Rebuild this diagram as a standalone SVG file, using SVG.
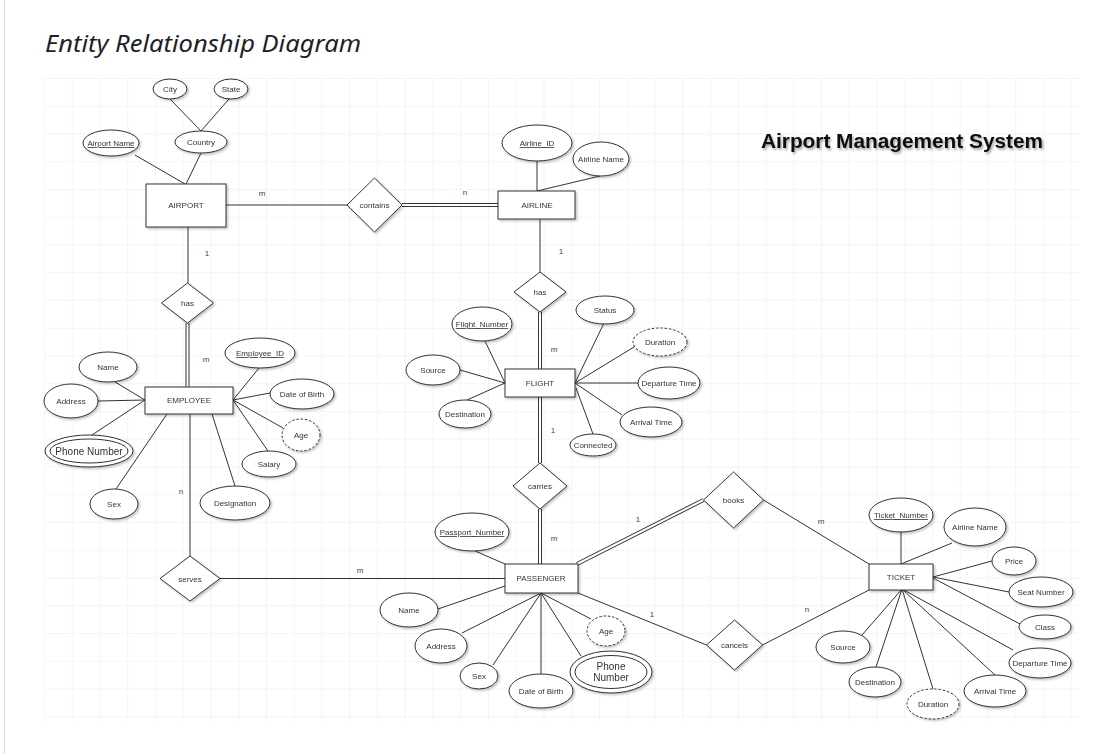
<svg xmlns="http://www.w3.org/2000/svg" width="1114" height="754" viewBox="0 0 1114 754">
<defs>
<pattern id="grid" x="44" y="78" width="27.75" height="27.75" patternUnits="userSpaceOnUse">
<path d="M27.75 0H0V27.75" fill="none" stroke="#ececec" stroke-width="1"/>
</pattern>
<filter id="sh" x="-20%" y="-20%" width="150%" height="150%">
<feDropShadow dx="1.5" dy="1.5" stdDeviation="0.8" flood-color="#000" flood-opacity="0.25"/>
</filter>
<filter id="tsh" x="-5%" y="-30%" width="110%" height="170%">
<feDropShadow dx="1.5" dy="2" stdDeviation="1.2" flood-color="#000" flood-opacity="0.35"/>
</filter>
</defs>
<style>
.ent{fill:#fff;stroke:#333;stroke-width:1}
.att{fill:#fff;stroke:#333;stroke-width:1}
.dsh{stroke-dasharray:2.5 1.8}
.rel{fill:#fff;stroke:#333;stroke-width:1}
.t{font-family:"Liberation Sans",Arial,sans-serif;font-size:8px;fill:#333;text-anchor:middle}
.tb{font-family:"Liberation Sans",Arial,sans-serif;font-size:10px;fill:#333;text-anchor:middle}
.u{text-decoration:underline}
.ln{stroke:#333;stroke-width:1;fill:none}
.dbo{stroke:#333;stroke-width:4;fill:none}
.dbi{stroke:#fff;stroke-width:2;fill:none}
.lbl{font-family:"Liberation Sans",Arial,sans-serif;font-size:8px;fill:#444;text-anchor:middle}
</style>
<rect x="0" y="0" width="1114" height="754" fill="#fff"/>
<line x1="4.5" y1="0" x2="4.5" y2="754" stroke="#dcdcdc" stroke-width="1"/>
<rect x="44" y="78" width="1036" height="644" fill="url(#grid)"/>
<text x="45" y="52" font-family="'Noto Sans','Open Sans',sans-serif" font-style="italic" font-size="24" fill="#1e1e28" textLength="316" lengthAdjust="spacingAndGlyphs">Entity Relationship Diagram</text>
<text x="902" y="148" font-family="'Liberation Sans',Arial,sans-serif" font-weight="bold" font-size="20" fill="#111" text-anchor="middle" filter="url(#tsh)" textLength="282" lengthAdjust="spacingAndGlyphs">Airport Management System</text>

<g id="connectors">
<line class="ln" x1="226" y1="205" x2="347" y2="205"/>
<line class="dbo" x1="402" y1="205" x2="498" y2="205"/><line class="dbi" x1="402" y1="205" x2="498" y2="205"/>
<line class="ln" x1="540" y1="219" x2="540" y2="272"/>
<line class="dbo" x1="540" y1="312" x2="540" y2="369"/><line class="dbi" x1="540" y1="312" x2="540" y2="369"/>
<line class="dbo" x1="540" y1="397" x2="540" y2="463"/><line class="dbi" x1="540" y1="397" x2="540" y2="463"/>
<line class="dbo" x1="540" y1="509" x2="540" y2="564"/><line class="dbi" x1="540" y1="509" x2="540" y2="564"/>
<line class="ln" x1="188" y1="227" x2="188" y2="283"/>
<line class="dbo" x1="187.5" y1="323" x2="187.5" y2="387"/><line class="dbi" x1="187.5" y1="323" x2="187.5" y2="387"/>
<line class="ln" x1="190" y1="414" x2="190" y2="556"/>
<line class="ln" x1="220" y1="578.5" x2="505" y2="578.5"/>
<line class="dbo" x1="577" y1="564" x2="703.5" y2="500"/><line class="dbi" x1="577" y1="564" x2="703.5" y2="500"/>
<line class="ln" x1="763.5" y1="500" x2="869" y2="564"/>
<line class="ln" x1="578" y1="593" x2="706.5" y2="645"/>
<line class="ln" x1="762.5" y1="645" x2="869" y2="590"/>
<!-- airport attributes -->
<line class="ln" x1="170" y1="99" x2="201" y2="131"/>
<line class="ln" x1="229" y1="99" x2="201" y2="131"/>
<line class="ln" x1="135" y1="155" x2="185" y2="184"/>
<line class="ln" x1="201" y1="153" x2="186" y2="184"/>
<!-- airline attributes -->
<line class="ln" x1="537" y1="161" x2="537" y2="191"/>
<line class="ln" x1="600" y1="176" x2="537" y2="191"/>
<!-- flight attributes -->
<line class="ln" x1="485" y1="341" x2="505" y2="383"/>
<line class="ln" x1="460" y1="370" x2="505" y2="383"/>
<line class="ln" x1="467" y1="400" x2="505" y2="383"/>
<line class="ln" x1="604" y1="323" x2="575" y2="383"/>
<line class="ln" x1="634" y1="347" x2="575" y2="383"/>
<line class="ln" x1="638" y1="383" x2="575" y2="383"/>
<line class="ln" x1="622" y1="415" x2="575" y2="383"/>
<line class="ln" x1="593" y1="434" x2="576" y2="388"/>
<!-- employee attributes -->
<line class="ln" x1="115" y1="382" x2="145" y2="400"/>
<line class="ln" x1="98" y1="401" x2="145" y2="400"/>
<line class="ln" x1="92" y1="435" x2="145" y2="400"/>
<line class="ln" x1="116" y1="489" x2="167" y2="414"/>
<line class="ln" x1="235" y1="486" x2="212" y2="414"/>
<line class="ln" x1="259" y1="368" x2="233" y2="400"/>
<line class="ln" x1="270" y1="393" x2="233" y2="400"/>
<line class="ln" x1="283" y1="428" x2="233" y2="400"/>
<line class="ln" x1="268" y1="451" x2="233" y2="400"/>
<!-- passenger attributes -->
<line class="ln" x1="475" y1="551" x2="505" y2="564"/>
<line class="ln" x1="438" y1="609" x2="505" y2="586"/>
<line class="ln" x1="462" y1="633" x2="541" y2="593"/>
<line class="ln" x1="493" y1="665" x2="541" y2="593"/>
<line class="ln" x1="541" y1="674" x2="541" y2="593"/>
<line class="ln" x1="581" y1="656" x2="541" y2="593"/>
<line class="ln" x1="591" y1="619" x2="541" y2="593"/>
<!-- ticket attributes -->
<line class="ln" x1="901" y1="531" x2="901" y2="564"/>
<line class="ln" x1="952" y1="543" x2="901" y2="564"/>
<line class="ln" x1="992" y1="561" x2="933" y2="577"/>
<line class="ln" x1="1009" y1="592" x2="933" y2="577"/>
<line class="ln" x1="1020" y1="624" x2="933" y2="578"/>
<line class="ln" x1="1013" y1="650" x2="902" y2="589"/>
<line class="ln" x1="995" y1="675" x2="902" y2="589"/>
<line class="ln" x1="933" y1="689" x2="902" y2="589"/>
<line class="ln" x1="876" y1="667" x2="902" y2="589"/>
<line class="ln" x1="862" y1="635" x2="902" y2="589"/>
<!-- cardinalities -->
<text class="lbl" x="262" y="196">m</text>
<text class="lbl" x="465" y="195">n</text>
<text class="lbl" x="561" y="254">1</text>
<text class="lbl" x="207" y="256">1</text>
<text class="lbl" x="206" y="362">m</text>
<text class="lbl" x="554" y="352">m</text>
<text class="lbl" x="553" y="433">1</text>
<text class="lbl" x="554" y="541">m</text>
<text class="lbl" x="181" y="494">n</text>
<text class="lbl" x="360" y="573">m</text>
<text class="lbl" x="638" y="522">1</text>
<text class="lbl" x="821" y="524">m</text>
<text class="lbl" x="652" y="617">1</text>
<text class="lbl" x="807" y="612">n</text>
</g>

<g filter="url(#sh)">
<g id="airport"><rect class="ent" x="146" y="184" width="80" height="43"/><text class="t" x="186" y="208">AIRPORT</text></g>
<g id="airport-city"><ellipse class="att" cx="170" cy="89" rx="17" ry="10"/><text class="t" x="170" y="92">City</text></g>
<g id="airport-state"><ellipse class="att" cx="231" cy="89" rx="17" ry="10"/><text class="t" x="231" y="92">State</text></g>
<g id="airport-country"><ellipse class="att" cx="201" cy="142" rx="26" ry="11"/><text class="t" x="201" y="145">Country</text></g>
<g id="airport-name"><ellipse class="att" cx="111" cy="143" rx="28" ry="13"/><text class="t u" x="111" y="146">Airport Name</text></g>

<g id="contains"><polygon class="rel" points="347,205 374.5,178 402,205 374.5,232"/><text class="t" x="374.5" y="208">contains</text></g>

<g id="airline"><rect class="ent" x="498" y="191" width="77" height="28"/><text class="t" x="537" y="208">AIRLINE</text></g>
<g id="airline-id"><ellipse class="att" cx="537" cy="143" rx="35" ry="18"/><text class="t u" x="537" y="146">Airline_ID</text></g>
<g id="airline-name"><ellipse class="att" cx="601" cy="159" rx="28" ry="17"/><text class="t" x="601" y="162">Airline Name</text></g>

<g id="has-flight"><polygon class="rel" points="514,292 540,272 566,292 540,312"/><text class="t" x="540" y="295">has</text></g>

<g id="flight"><rect class="ent" x="505" y="369" width="70" height="28"/><text class="t" x="540" y="386">FLIGHT</text></g>
<g id="flight-number"><ellipse class="att" cx="482" cy="324" rx="30" ry="17"/><text class="t u" x="482" y="327">Flight_Number</text></g>
<g id="flight-source"><ellipse class="att" cx="433" cy="370" rx="27" ry="15"/><text class="t" x="433" y="373">Source</text></g>
<g id="flight-destination"><ellipse class="att" cx="465" cy="414" rx="26" ry="14"/><text class="t" x="465" y="417">Destination</text></g>
<g id="flight-status"><ellipse class="att" cx="605" cy="310" rx="29" ry="14"/><text class="t" x="605" y="313">Status</text></g>
<g id="flight-duration"><ellipse class="att dsh" cx="660" cy="342" rx="27" ry="14"/><text class="t" x="660" y="345">Duration</text></g>
<g id="flight-departure"><ellipse class="att" cx="669" cy="383" rx="31" ry="16"/><text class="t" x="669" y="386">Departure Time</text></g>
<g id="flight-arrival"><ellipse class="att" cx="651" cy="422" rx="31" ry="15"/><text class="t" x="651" y="425">Arrival Time</text></g>
<g id="flight-connected"><ellipse class="att" cx="593" cy="445" rx="23" ry="11"/><text class="t" x="593" y="448">Connected</text></g>

<g id="carries"><polygon class="rel" points="513,486 540,463 567,486 540,509"/><text class="t" x="540" y="489">carries</text></g>

<g id="has-employee"><polygon class="rel" points="161.5,303 187.5,283 213.5,303 187.5,323"/><text class="t" x="187.5" y="306">has</text></g>

<g id="employee"><rect class="ent" x="145" y="387" width="88" height="27"/><text class="t" x="189" y="403">EMPLOYEE</text></g>
<g id="employee-id"><ellipse class="att" cx="260" cy="353" rx="35" ry="15"/><text class="t u" x="260" y="356">Employee_ID</text></g>
<g id="employee-name"><ellipse class="att" cx="108" cy="367" rx="29" ry="15"/><text class="t" x="108" y="370">Name</text></g>
<g id="employee-address"><ellipse class="att" cx="71" cy="401" rx="27" ry="17"/><text class="t" x="71" y="404">Address</text></g>
<g id="employee-phone"><ellipse class="att" cx="89" cy="451" rx="44" ry="16"/><ellipse class="att" cx="89" cy="451" rx="39" ry="12"/><text class="tb" x="89" y="454.5">Phone Number</text></g>
<g id="employee-sex"><ellipse class="att" cx="114" cy="504" rx="24" ry="15"/><text class="t" x="114" y="507">Sex</text></g>
<g id="employee-designation"><ellipse class="att" cx="235" cy="503" rx="35" ry="17"/><text class="t" x="235" y="506">Designation</text></g>
<g id="employee-salary"><ellipse class="att" cx="269" cy="464" rx="27" ry="13"/><text class="t" x="269" y="467">Salary</text></g>
<g id="employee-age"><ellipse class="att dsh" cx="301" cy="435" rx="19" ry="16"/><text class="t" x="301" y="438">Age</text></g>
<g id="employee-dob"><ellipse class="att" cx="302" cy="394" rx="32" ry="15"/><text class="t" x="302" y="397">Date of Birth</text></g>

<g id="serves"><polygon class="rel" points="160,578.5 190,556 220,578.5 190,601"/><text class="t" x="190" y="581.5">serves</text></g>

<g id="passenger"><rect class="ent" x="505" y="564" width="73" height="29"/><text class="t" x="541" y="581">PASSENGER</text></g>
<g id="passenger-passport"><ellipse class="att" cx="472" cy="532" rx="37" ry="19"/><text class="t u" x="472" y="535">Passport_Number</text></g>
<g id="passenger-name"><ellipse class="att" cx="409" cy="610" rx="29" ry="17"/><text class="t" x="409" y="613">Name</text></g>
<g id="passenger-address"><ellipse class="att" cx="441" cy="646" rx="26" ry="17"/><text class="t" x="441" y="649">Address</text></g>
<g id="passenger-sex"><ellipse class="att" cx="479" cy="676" rx="19" ry="13"/><text class="t" x="479" y="679">Sex</text></g>
<g id="passenger-dob"><ellipse class="att" cx="541" cy="691" rx="32" ry="17"/><text class="t" x="541" y="694">Date of Birth</text></g>
<g id="passenger-phone"><ellipse class="att" cx="611" cy="672" rx="41" ry="21"/><ellipse class="att" cx="611" cy="672" rx="36" ry="16.5"/><text class="tb" x="611" y="670">Phone</text><text class="tb" x="611" y="681">Number</text></g>
<g id="passenger-age"><ellipse class="att dsh" cx="606" cy="631" rx="19" ry="15"/><text class="t" x="606" y="634">Age</text></g>

<g id="books"><polygon class="rel" points="703.5,500 733.5,472 763.5,500 733.5,528"/><text class="t" x="733.5" y="503">books</text></g>
<g id="cancels"><polygon class="rel" points="706.5,645 734.5,620 762.5,645 734.5,670"/><text class="t" x="734.5" y="648">cancels</text></g>

<g id="ticket"><rect class="ent" x="869" y="564" width="64" height="26"/><text class="t" x="901" y="580">TICKET</text></g>
<g id="ticket-number"><ellipse class="att" cx="901" cy="515" rx="32" ry="17"/><text class="t u" x="901" y="518">Ticket_Number</text></g>
<g id="ticket-airline"><ellipse class="att" cx="975" cy="527" rx="31" ry="19"/><text class="t" x="975" y="530">Airline Name</text></g>
<g id="ticket-price"><ellipse class="att" cx="1014" cy="561" rx="22" ry="14"/><text class="t" x="1014" y="564">Price</text></g>
<g id="ticket-seat"><ellipse class="att" cx="1041" cy="592" rx="32" ry="15"/><text class="t" x="1041" y="595">Seat Number</text></g>
<g id="ticket-class"><ellipse class="att" cx="1045" cy="627" rx="26" ry="12"/><text class="t" x="1045" y="630">Class</text></g>
<g id="ticket-departure"><ellipse class="att" cx="1040" cy="663" rx="31" ry="15"/><text class="t" x="1040" y="666">Departure Time</text></g>
<g id="ticket-arrival"><ellipse class="att" cx="995" cy="691" rx="31" ry="16"/><text class="t" x="995" y="694">Arrival Time</text></g>
<g id="ticket-duration"><ellipse class="att dsh" cx="933" cy="704" rx="26" ry="15"/><text class="t" x="933" y="707">Duration</text></g>
<g id="ticket-destination"><ellipse class="att" cx="875" cy="682" rx="26" ry="15"/><text class="t" x="875" y="685">Destination</text></g>
<g id="ticket-source"><ellipse class="att" cx="843" cy="647" rx="27" ry="16"/><text class="t" x="843" y="650">Source</text></g>
</g>
</svg>
